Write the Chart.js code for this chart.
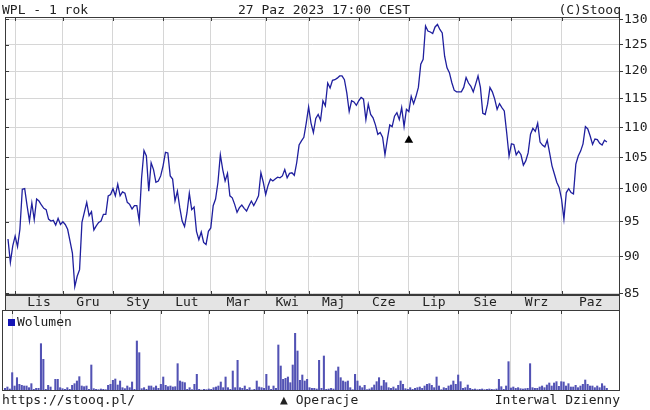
<!DOCTYPE html>
<html lang="pl">
<head>
  <meta charset="UTF-8">
  <title>WPL - 1 rok</title>
  <script src="https://cdn.jsdelivr.net/npm/chart.js"></script>
  <style>
    body { margin: 0; background: #fff; font-family: "DejaVu Sans Mono", monospace; font-size: 13px; color: #222; }
    #wrap { position: relative; width: 650px; height: 410px; overflow: hidden; }
    canvas { position: absolute; left: 0; }
    .txt { position: absolute; line-height: 15px; white-space: nowrap; }
    .sq { display: inline-block; width: 7px; height: 7px; background: #1515b5; margin-right: 2px; vertical-align: 0; }
  </style>
</head>
<body>
<div id="wrap">
  <canvas id="price" width="650" height="310" style="top:0"></canvas>
  <canvas id="vol" width="650" height="100" style="top:310px"></canvas>
  <div class="txt" style="left:2px;top:2px">WPL - 1 rok</div>
  <div class="txt" style="left:238px;top:2px">27 Paz 2023 17:00 CEST</div>
  <div class="txt" style="right:29px;top:2px">(C)Stooq</div>
  <div class="txt" style="left:8px;top:314px"><span class="sq"></span>Wolumen</div>
  <div class="txt" style="left:2px;top:392px">https://stooq.pl/</div>
  <div class="txt" style="left:280px;top:392px">&#9650; Operacje</div>
  <div class="txt" style="right:30px;top:392px">Interwal Dzienny</div>
</div>

<script>
  // daily closes, 27 Oct 2022 .. 27 Oct 2023 (trading days)
  const prices = [
    92.5, 89.2, 91.5, 92.9, 91.4, 93.9, 99.9, 100, 97.4, 95.1,
    97.8, 95.3, 98.4, 98.1, 97.5, 97, 96.8, 95.4, 95.1, 95.2,
    94.5, 95.5, 94.6, 95, 94.6, 93.9, 92.2, 90.5, 85.9, 87.3,
    88.2, 94.9, 96.4, 97.9, 95.9, 96.5, 93.8, 94.4, 94.9, 95.1,
    96.1, 96.1, 98.9, 99.1, 100, 98.9, 100.7, 98.9, 99.5, 99.3,
    97.9, 97.6, 96.9, 97.4, 97.4, 95.1, 101.7, 106.1, 105.2, 99.6,
    104.1, 103, 101, 101.2, 102, 103.6, 105.8, 105.7, 102, 101.5,
    98.1, 99.6, 97.1, 95.1, 94.3, 96.3, 99.3, 96.8, 97.2, 93.6,
    92.4, 93.5, 92, 91.7, 93.6, 94.1, 97.4, 98.4, 101, 105.4,
    103, 101.2, 102.4, 98.9, 98.6, 97.6, 96.4, 97.1, 97.5, 97,
    96.6, 97.4, 98.1, 97.4, 98.1, 98.9, 102.5, 101, 99.1, 100.5,
    101.5, 101.2, 101.5, 101.8, 101.7, 102, 103, 101.7, 102.4, 102.5,
    102.1, 104.1, 107, 107.7, 108.3, 110.7, 113.5, 110.7, 109.1, 111.5,
    112.2, 111.2, 114.6, 113.7, 117.8, 116.9, 118.3, 118.4, 118.7, 119.1,
    119.1, 118.4, 116, 112.7, 114.6, 114.4, 113.8, 114.6, 115.2, 114.9,
    111.3, 114, 112.2, 111.6, 110.4, 108.8, 109.1, 108.3, 105.4, 108,
    110.4, 110.1, 111.9, 112.5, 111.3, 113.4, 110.1, 113.1, 112.7, 115.4,
    114.1, 115.4, 117, 121.3, 122.2, 128.7, 127.7, 127.5, 127.2, 128.5,
    129, 128, 127.3, 122.8, 120.6, 119.7, 117.9, 116.5, 116.2, 116.2,
    116.2, 117, 118.8, 117.8, 117.2, 116.2, 117.6, 119.1, 117, 112.4,
    112.2, 114, 117, 116.2, 114.9, 113.1, 114.1, 113.4, 112.8, 109.1,
    105.2, 107.2, 107.1, 105.4, 106, 105.4, 103.7, 104.4, 105.7, 108.8,
    109.8, 109.3, 110.7, 107.5, 107, 106.7, 107.8, 105.7, 103.6, 102.3,
    101, 100.2, 98.4, 95.4, 99.4, 100, 99.4, 99.2, 103.9, 105.2,
    106, 107.2, 110.1, 109.7, 108.5, 107.1, 108, 107.9, 107.3, 107,
    107.8, 107.5
  ];
  const volumes = [
    8, 12, 6, 55, 15, 40, 20, 17, 15, 15,
    10, 22, 5, 8, 8, 142, 95, 5, 17, 12,
    2, 35, 35, 10, 7, 5, 10, 5, 17, 22,
    30, 43, 15, 13, 15, 5, 78, 7, 5, 4,
    6, 5, 4, 17, 20, 32, 36, 18, 30, 10,
    7, 15, 10, 27, 5, 150, 115, 7, 10, 5,
    15, 15, 10, 15, 8, 20, 42, 17, 13, 15,
    12, 13, 82, 30, 27, 25, 5, 10, 4, 20,
    50, 5, 3, 5, 4, 6, 5, 10, 12, 15,
    27, 10, 42, 10, 5, 60, 10, 92, 10, 8,
    15, 5, 10, 3, 5, 30, 12, 10, 8, 50,
    15, 5, 15, 8, 138, 75, 35, 38, 42, 25,
    78, 173, 120, 32, 48, 30, 35, 10, 8, 8,
    6, 92, 8, 105, 5, 6, 8, 6, 60, 72,
    40, 30, 27, 30, 10, 4, 50, 30, 15, 10,
    17, 4, 6, 10, 18, 28, 40, 15, 32, 25,
    10, 8, 12, 7, 17, 30, 20, 7, 5, 10,
    5, 8, 10, 12, 8, 15, 20, 22, 17, 10,
    42, 15, 4, 10, 8, 15, 18, 30, 20, 48,
    28, 8, 10, 18, 8, 5, 6, 4, 5, 6,
    4, 5, 6, 5, 4, 6, 35, 13, 5, 15,
    88, 9, 12, 8, 10, 7, 6, 7, 8, 82,
    10, 8, 8, 12, 15, 10, 18, 24, 15, 24,
    28, 14, 28, 27, 15, 22, 12, 12, 17, 10,
    15, 20, 33, 20, 15, 15, 10, 15, 10, 22,
    15, 8
  ];
  const monthLabels = ["Lis", "Gru", "Sty", "Lut", "Mar", "Kwi", "Maj", "Cze", "Lip", "Sie", "Wrz", "Paz"];
  const monthTradingDays = [20, 21, 21, 20, 23, 18, 21, 21, 21, 22, 21, 20];
  const daysBeforeFirstMonth = 3;
  const priceTicks = [85, 90, 95, 100, 105, 110, 115, 120, 125, 130];
  const operationDays = [168];
  const operationLevels = [107.8];

  const xMin = -1.25, xMax = 256.5;

  // month start positions (in trading days) and label centres
  const monthStarts = [];
  let d = daysBeforeFirstMonth;
  monthTradingDays.forEach(n => { monthStarts.push(d); d += n; });
  const monthMids = monthStarts.map((s, i) => i < monthStarts.length - 1 ? (s + monthStarts[i + 1]) / 2 : (s + xMax) / 2);

  Chart.defaults.font.family = "'DejaVu Sans Mono', monospace";
  Chart.defaults.font.size = 13;
  Chart.defaults.color = "#222";

  const gridCol = "#d6d6d6";
  const frameCol = "#3a3a3a";

  // box around plot + small inner ticks
  const frame = {
    id: "frame",
    beforeDraw(chart, args, opts) {
      const a = chart.chartArea, ctx = chart.ctx;
      if (opts.strip) {
        ctx.save();
        ctx.fillStyle = "#e4e4e4";
        ctx.fillRect(a.left, a.bottom, a.right - a.left, opts.strip);
        ctx.strokeStyle = frameCol;
        ctx.lineWidth = 1;
        ctx.strokeRect(a.left + 0.5, a.bottom + 0.5, a.right - a.left - 1, opts.strip);
        ctx.restore();
      }
    },
    afterDraw(chart, args, opts) {
      const a = chart.chartArea, ctx = chart.ctx;
      ctx.save();
      ctx.strokeStyle = frameCol;
      ctx.lineWidth = 1;
      ctx.strokeRect(a.left + 0.5, a.top + 0.5, a.right - a.left - 1, a.bottom - a.top - 1);
      ctx.beginPath();
      const xs = chart.scales.x;
      monthStarts.forEach(m => {
        const px = Math.round(xs.getPixelForValue(m)) + 0.5;
        ctx.moveTo(px, a.top); ctx.lineTo(px, a.top + 4);
        if (opts.bottomTicks) { ctx.moveTo(px, a.bottom); ctx.lineTo(px, a.bottom - 4); }
      });
      if (chart.scales.y && opts.leftTicks) {
        priceTicks.forEach(v => {
          const py = Math.round(chart.scales.y.getPixelForValue(v)) + 0.5;
          ctx.moveTo(a.left, py); ctx.lineTo(a.left + 4, py);
        });
      }
      ctx.stroke();
      ctx.restore();
    }
  };

  new Chart(document.getElementById("price"), {
    type: "line",
    data: {
      datasets: [
        {
          data: prices.map((v, i) => ({ x: i, y: v })),
          borderColor: "#1f1f9e", borderWidth: 1.3, pointRadius: 0, tension: 0
        },
        {
          type: "scatter",
          data: operationDays.map((day, i) => ({ x: day, y: operationLevels[i] })),
          pointStyle: "triangle", pointRadius: 5, backgroundColor: "#000", borderColor: "#000", borderWidth: 0
        }
      ]
    },
    options: {
      responsive: false, animation: false,
      layout: { padding: { top: 17, left: 2, right: 0, bottom: 0 } },
      plugins: { legend: { display: false }, tooltip: { enabled: false }, frame: { strip: 15, bottomTicks: true, leftTicks: true } },
      scales: {
        x: {
          type: "linear", min: xMin, max: xMax, weight: 0,
          afterBuildTicks: s => { s.ticks = monthStarts.map(v => ({ value: v })); },
          afterFit: s => { s.height = 0; },
          ticks: { display: false },
          grid: { color: gridCol, drawTicks: false },
          border: { display: false }
        },
        xm: {
          type: "linear", position: "bottom", min: xMin, max: xMax, weight: 1,
          afterBuildTicks: s => { s.ticks = monthMids.map(v => ({ value: v })); },
          afterFit: s => { s.height = 15; },
          ticks: { callback: (v, i) => monthLabels[i], autoSkip: false, maxRotation: 0, padding: 0, color: "#222" },
          grid: { display: false, drawTicks: false },
          border: { display: false }
        },
        y: {
          type: "logarithmic", position: "right", min: 84.8, max: 130.5,
          afterBuildTicks: s => { s.ticks = priceTicks.map(v => ({ value: v })); },
          afterFit: s => { s.width = 30; },
          ticks: { callback: v => String(v), padding: 1, color: "#222" },
          grid: { color: gridCol, tickLength: 3, tickColor: frameCol },
          border: { display: false }
        }
      }
    },
    plugins: [frame]
  });

  new Chart(document.getElementById("vol"), {
    type: "bar",
    data: {
      datasets: [{
        data: volumes.map((v, i) => ({ x: i, y: v })),
        backgroundColor: "#5252b4", barThickness: 1.4
      }]
    },
    options: {
      responsive: false, animation: false,
      layout: { padding: { top: 0, left: 2, right: 30, bottom: 19 } },
      plugins: { legend: { display: false }, tooltip: { enabled: false }, frame: {} },
      scales: {
        x: {
          type: "linear", min: xMin, max: xMax, offset: false,
          afterBuildTicks: s => { s.ticks = monthStarts.map(v => ({ value: v })); },
          afterFit: s => { s.height = 0; },
          ticks: { display: false },
          grid: { color: gridCol, drawTicks: false, offset: false },
          border: { display: false }
        },
        y: { display: false, min: 0, max: 243 }
      }
    },
    plugins: [frame]
  });
</script>
</body>
</html>
